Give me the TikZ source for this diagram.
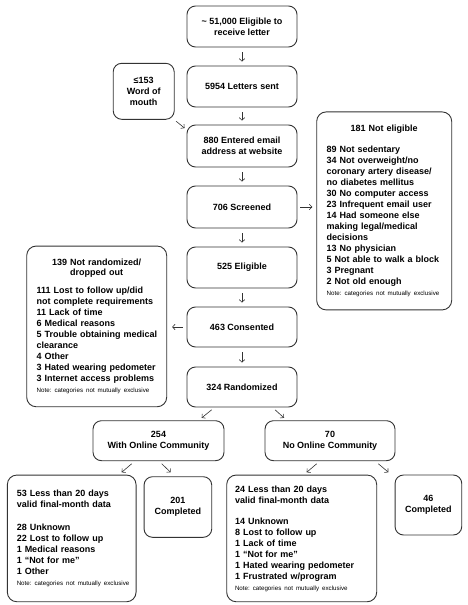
\documentclass[tikz,border=0pt]{standalone}
\usepackage{fontspec}
\setmainfont{Liberation Sans}
\usetikzlibrary{arrows.meta,calc}
\definecolor{linec}{HTML}{333333}
\frenchspacing
\newcommand\Ln[1]{\hbox{#1}}
\newcommand\Ct[1]{\hbox to\hsize{\hss#1\hss}}
\newcommand\Nt[1]{\hbox{\fontsize{6.2}{7}\selectfont\mdseries #1}}
\begin{document}
\begin{tikzpicture}[x=1pt,y=-1pt,
  box/.style={draw=linec, line width=0.9pt, rounded corners=8.5pt, inner sep=0pt,
    font=\fontsize{9}{11}\selectfont\bfseries, align=center},
  listbox/.style={draw=linec, line width=0.9pt, rounded corners=9.5pt, inner ysep=0pt,
    font=\fontsize{9}{11}\selectfont\bfseries},
  arr/.style={draw=linec, line width=0.6pt, -{Straight Barb[length=2.5pt,width=5.5pt]}},
  vlink/.style={arr, shorten <=5pt, shorten >=4pt}]
\useasboundingbox (0,0) rectangle (468,605);

% main column
\node[box, minimum width=110pt, minimum height=41pt] (top) at (242,26.5) {\textasciitilde{} 51,000 Eligible to\\receive letter};
\node[box, minimum width=110pt, minimum height=41pt] (s5954) at (242,86.5) {5954 Letters sent};
\node[box, minimum width=61pt, minimum height=56pt] (wom) at (143.7,91.3) {≤153\\Word of\\mouth};
\node[box, minimum width=110pt, minimum height=42pt] (e880) at (242,146) {880 Entered email\\address at website};
\node[box, minimum width=110pt, minimum height=42pt] (s706) at (242,207) {706 Screened};
\node[box, minimum width=110pt, minimum height=41pt] (e525) at (242,267.5) {525 Eligible};
\node[box, minimum width=110pt, minimum height=40pt] (c463) at (242,327) {463 Consented};
\node[box, minimum width=110pt, minimum height=40pt] (r324) at (242,387) {324 Randomized};

% side boxes
\node[listbox, inner xsep=10pt, text width=115pt, minimum height=198pt] (ne181) at (384.2,210.9) {%
\Ct{181 Not eligible}\vskip10.4pt
\Ln{89 Not sedentary}
\Ln{34 Not overweight/no}
\Ln{coronary artery disease/}
\Ln{no diabetes mellitus}
\Ln{30 No computer access}
\Ln{23 Infrequent email user}
\Ln{14 Had someone else}
\Ln{making legal/medical}
\Ln{decisions}
\Ln{13 No physician}
\Ln{5 Not able to walk a block}
\Ln{3 Pregnant}
\Ln{2 Not old enough}
\Nt{Note: categories not mutually exclusive}};

\node[listbox, inner xsep=10pt, text width=120pt, minimum height=160.7pt] (nr139) at (96.7,326.4) {%
\Ct{139 Not randomized/}\vskip-1pt
\Ct{dropped out}\vskip6.4pt
\Ln{111 Lost to follow up/did}
\Ln{not complete requirements}
\Ln{11 Lack of time}
\Ln{6 Medical reasons}
\Ln{5 Trouble obtaining medical}
\Ln{clearance}
\Ln{4 Other}
\Ln{3 Hated wearing pedometer}
\Ln{3 Internet access problems}
\Nt{Note: categories not mutually exclusive}};

% arms
\node[box, minimum width=131pt, minimum height=40pt] (w254) at (158.5,440.7) {254\\With Online Community};
\node[box, minimum width=130pt, minimum height=40pt] (n70) at (330,440.7) {70\\No Online Community};

% bottom boxes
\node[listbox, inner xsep=9.4pt, text width=109.9pt, minimum height=126.7pt] (b53) at (71.7,538.4) {%
\Ln{53 Less than 20 days}
\Ln{valid final-month data}\vskip11.6pt
\Ln{28 Unknown}
\Ln{22 Lost to follow up}
\Ln{1 Medical reasons}
\Ln{1 “Not for me”}
\Ln{1 Other}
\Nt{Note: categories not mutually exclusive}};
\node[box, minimum width=67.7pt, minimum height=60.6pt] (c201) at (177.9,507) {201\\Completed};

\node[listbox, inner xsep=8.3pt, text width=133.4pt, minimum height=126.7pt] (b24) at (301.7,538.4) {%
\Ln{24 Less than 20 days}
\Ln{valid final-month data}\vskip10pt
\Ln{14 Unknown}
\Ln{8 Lost to follow up}
\Ln{1 Lack of time}
\Ln{1 “Not for me”}
\Ln{1 Hated wearing pedometer}
\Ln{1 Frustrated w/program}
\Nt{Note: categories not mutually exclusive}};
\node[box, minimum width=66.7pt, minimum height=60pt] (c46) at (428.4,505) {46\\Completed};

% connectors
\draw[vlink] (top) -- (s5954);
\draw[vlink] (s5954) -- (e880);
\draw[vlink] (e880) -- (s706);
\draw[vlink] (s706) -- (e525);
\draw[vlink] (e525) -- (c463);
\draw[vlink] (c463) -- (r324);
\draw[arr] ($(wom.south east)+(1.5,1.5)$) -- ($(e880.north west)+(-2,3.5)$);
\draw[arr, shorten <=3pt, shorten >=4pt] (s706.east) -- (s706.east -| ne181.west);
\draw[arr, shorten <=4pt, shorten >=5pt] (c463.west) -- (c463.west -| nr139.east);
\draw[arr] ($(r324.south)+(-30.3,2.3)$) -- ($(w254.north)+(43.2,-2.4)$);
\draw[arr] ($(r324.south)+(33,2.3)$) -- ($(n70.north)+(-46,-2.4)$);
\draw[arr] ($(w254.south)+(-26.8,2.6)$) -- ($(b53.north)+(50,-2.3)$);
\draw[arr] ($(w254.south)+(3.2,2.6)$) -- ($(c201.north)+(-7.3,-4)$);
\draw[arr] ($(n70.south)+(-13.3,2.6)$) -- ($(b24.north)+(5,-2.3)$);
\draw[arr] ($(n70.south)+(48.3,2.6)$) -- ($(c46.north)+(-40,-2.3)$);
\end{tikzpicture}
\end{document}
